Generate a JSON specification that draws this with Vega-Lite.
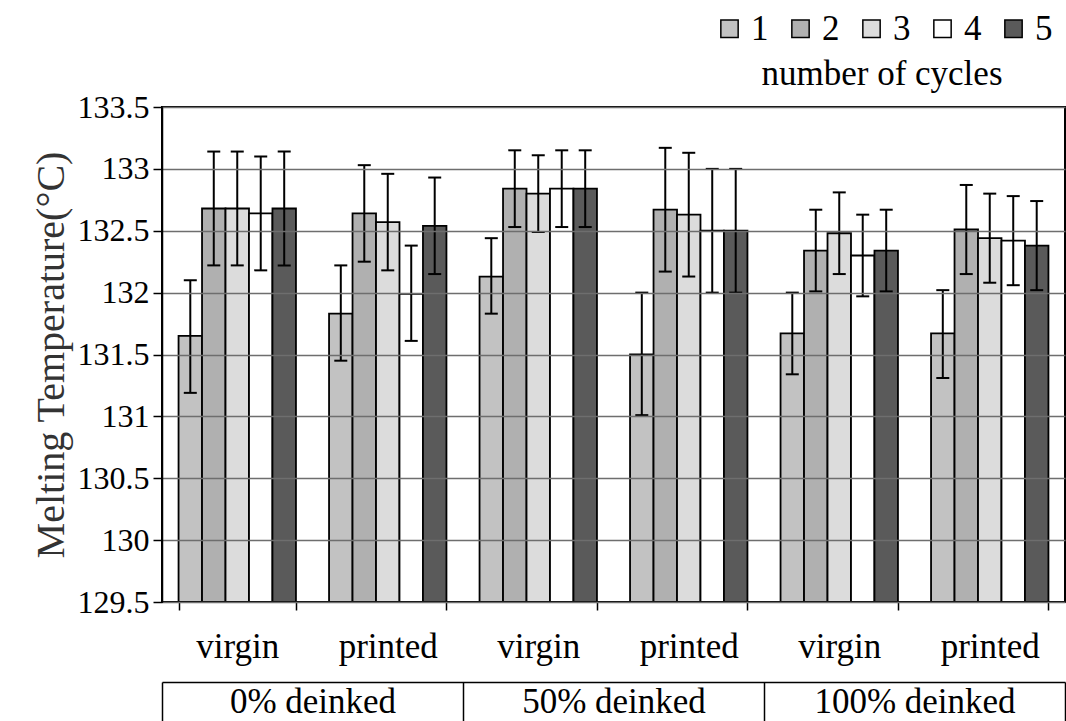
{
  "$schema": "https://vega.github.io/schema/vega-lite/v6.json",
  "width": 903,
  "height": 495,
  "autosize": {"type": "none"},
  "padding": {"left": 162, "top": 107, "right": 1, "bottom": 119},
  "background": "white",
  "config": {"font": "Liberation Serif", "view": {"stroke": "black", "strokeWidth": 2}},
  "datasets": {
    "bars": [
      {"grp": "0|virgin", "cycle": "1", "mean": 131.65, "lo": 131.19, "hi": 132.10},
      {"grp": "0|virgin", "cycle": "2", "mean": 132.68, "lo": 132.22, "hi": 133.14},
      {"grp": "0|virgin", "cycle": "3", "mean": 132.68, "lo": 132.22, "hi": 133.14},
      {"grp": "0|virgin", "cycle": "4", "mean": 132.64, "lo": 132.18, "hi": 133.10},
      {"grp": "0|virgin", "cycle": "5", "mean": 132.68, "lo": 132.22, "hi": 133.14},
      {"grp": "0|printed", "cycle": "1", "mean": 131.83, "lo": 131.45, "hi": 132.22},
      {"grp": "0|printed", "cycle": "2", "mean": 132.64, "lo": 132.25, "hi": 133.03},
      {"grp": "0|printed", "cycle": "3", "mean": 132.57, "lo": 132.18, "hi": 132.96},
      {"grp": "0|printed", "cycle": "4", "mean": 131.99, "lo": 131.61, "hi": 132.38},
      {"grp": "0|printed", "cycle": "5", "mean": 132.54, "lo": 132.15, "hi": 132.93},
      {"grp": "50|virgin", "cycle": "1", "mean": 132.13, "lo": 131.83, "hi": 132.44},
      {"grp": "50|virgin", "cycle": "2", "mean": 132.84, "lo": 132.53, "hi": 133.15},
      {"grp": "50|virgin", "cycle": "3", "mean": 132.80, "lo": 132.49, "hi": 133.11},
      {"grp": "50|virgin", "cycle": "4", "mean": 132.84, "lo": 132.53, "hi": 133.15},
      {"grp": "50|virgin", "cycle": "5", "mean": 132.84, "lo": 132.53, "hi": 133.15},
      {"grp": "50|printed", "cycle": "1", "mean": 131.50, "lo": 131.01, "hi": 132.00},
      {"grp": "50|printed", "cycle": "2", "mean": 132.67, "lo": 132.17, "hi": 133.17},
      {"grp": "50|printed", "cycle": "3", "mean": 132.63, "lo": 132.13, "hi": 133.13},
      {"grp": "50|printed", "cycle": "4", "mean": 132.50, "lo": 132.00, "hi": 133.00},
      {"grp": "50|printed", "cycle": "5", "mean": 132.50, "lo": 132.00, "hi": 133.00},
      {"grp": "100|virgin", "cycle": "1", "mean": 131.67, "lo": 131.34, "hi": 132.00},
      {"grp": "100|virgin", "cycle": "2", "mean": 132.34, "lo": 132.01, "hi": 132.67},
      {"grp": "100|virgin", "cycle": "3", "mean": 132.48, "lo": 132.15, "hi": 132.81},
      {"grp": "100|virgin", "cycle": "4", "mean": 132.30, "lo": 131.97, "hi": 132.63},
      {"grp": "100|virgin", "cycle": "5", "mean": 132.34, "lo": 132.01, "hi": 132.67},
      {"grp": "100|printed", "cycle": "1", "mean": 131.67, "lo": 131.31, "hi": 132.02},
      {"grp": "100|printed", "cycle": "2", "mean": 132.51, "lo": 132.15, "hi": 132.87},
      {"grp": "100|printed", "cycle": "3", "mean": 132.44, "lo": 132.08, "hi": 132.80},
      {"grp": "100|printed", "cycle": "4", "mean": 132.42, "lo": 132.06, "hi": 132.78},
      {"grp": "100|printed", "cycle": "5", "mean": 132.38, "lo": 132.02, "hi": 132.74}
    ],
    "dk": [
      {"deinked": "0% deinked"},
      {"deinked": "50% deinked"},
      {"deinked": "100% deinked"}
    ]
  },
  "layer": [
    {
      "data": {"name": "bars"},
      "encoding": {
        "x": {
          "field": "grp", "type": "nominal", "sort": null,
          "scale": {"paddingInner": 0.22, "paddingOuter": 0.11},
          "axis": {
            "orient": "bottom", "title": null,
            "labelExpr": "split(datum.value, '|')[1]",
            "labelFont": "Liberation Serif",
            "labelAngle": 0, "labelFontSize": 35, "labelColor": "black",
            "labelPadding": 19, "tickBand": "extent", "tickSize": 8,
            "tickColor": "black", "tickWidth": 1.5, "domain": false
          }
        },
        "xOffset": {"field": "cycle", "type": "nominal", "scale": {"paddingInner": 0, "paddingOuter": 0}}
      },
      "layer": [
        {
          "mark": {"type": "bar", "stroke": "black", "strokeWidth": 1.8},
          "encoding": {
            "y": {
              "field": "mean", "type": "quantitative",
              "scale": {"domain": [129.5, 133.5], "zero": false, "nice": false},
              "axis": {
                "values": [129.5, 130, 130.5, 131, 131.5, 132, 132.5, 133, 133.5],
                "format": "~g", "labelFont": "Liberation Serif", "labelFontSize": 32, "labelColor": "black",
                "labelFlush": false, "labelOverlap": false, "labelPadding": 4,
                "tickSize": 9, "tickColor": "black", "tickWidth": 1.5,
                "domainColor": "black", "domainWidth": 1.5,
                "gridColor": "#6e6e6e", "gridWidth": 1.5,
                "title": "Melting Temperature(°C)", "titleFont": "Liberation Serif", "titleFontSize": 40,
                "titleFontWeight": "normal", "titleColor": "#333333", "titlePadding": 6,
                "zindex": 1
              }
            },
            "y2": {"datum": 129.5},
            "fill": {
              "field": "cycle", "type": "nominal",
              "scale": {"domain": ["1", "2", "3", "4", "5"], "range": ["#c2c2c2", "#b0b0b0", "#dcdcdc", "#ffffff", "#5a5a5a"]},
              "legend": {
                "orient": "none", "legendX": 550, "legendY": -96,
                "direction": "horizontal", "columns": 5, "columnPadding": 14,
                "symbolType": "square", "symbolSize": 300, "symbolStrokeColor": "black",
                "symbolStrokeWidth": 1.5, "symbolOpacity": 1,
                "labelFont": "Liberation Serif", "labelFontSize": 35, "labelColor": "black", "labelOffset": 4,
                "title": "number of cycles", "titleOrient": "bottom", "titleAnchor": "middle",
                "titleFont": "Liberation Serif", "titleFontSize": 35, "titleFontWeight": "normal", "titleColor": "black",
                "titlePadding": 10, "titleLimit": 600
              }
            }
          }
        },
        {
          "mark": {"type": "rule", "color": "black", "strokeWidth": 2},
          "encoding": {
            "y": {"field": "lo", "type": "quantitative"},
            "y2": {"field": "hi"}
          }
        },
        {
          "mark": {"type": "tick", "color": "black", "thickness": 2, "size": 13, "opacity": 1},
          "encoding": {"y": {"field": "lo", "type": "quantitative"}}
        },
        {
          "mark": {"type": "tick", "color": "black", "thickness": 2, "size": 13, "opacity": 1},
          "encoding": {"y": {"field": "hi", "type": "quantitative"}}
        }
      ]
    },
    {
      "data": {"name": "dk"},
      "mark": {"type": "point", "opacity": 0},
      "encoding": {
        "x": {
          "field": "deinked", "type": "nominal", "sort": null,
          "scale": {"paddingInner": 0, "paddingOuter": 0},
          "axis": {
            "orient": "bottom", "offset": 80, "title": null,
            "labelFont": "Liberation Serif", "labelLimit": 400,
            "labelAngle": 0, "labelFontSize": 35, "labelColor": "black",
            "labelPadding": -43, "tickBand": "extent", "tickSize": 45,
            "tickColor": "black", "tickWidth": 1.5,
            "domainColor": "black", "domainWidth": 1.5, "grid": false
          }
        },
        "y": {"datum": 130, "type": "quantitative"}
      }
    }
  ],
  "resolve": {"scale": {"x": "independent"}, "axis": {"x": "independent"}}
}
